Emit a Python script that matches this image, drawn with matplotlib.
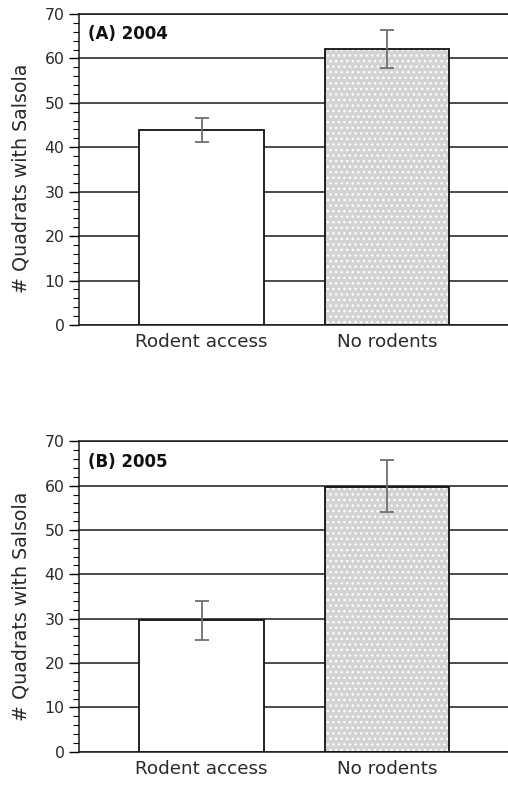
import numpy as np
import matplotlib.pyplot as plt

# values
groups = ['Rodent access', 'No rodents']
mean_2004 = [43.8, 62.2]
lo_2004 = [41.1, 57.9]
hi_2004 = [46.5, 66.5]
mean_2005 = [29.7, 59.7]
lo_2005 = [25.3, 54.0]
hi_2005 = [34.0, 65.7]
panel_titles = ['(A) 2004', '(B) 2005']
yticks = [0, 10, 20, 30, 40, 50, 60, 70]

plt.rcParams['font.family'] = ['DejaVu Sans']

fig = plt.figure(figsize=(5.08, 7.85), dpi=100)
ax_a = fig.add_axes([0.1555, 0.586, 0.8445, 0.3962])
ax_b = fig.add_axes([0.1555, 0.0424, 0.8445, 0.3954])


def draw_panel(ax, means, lo, hi, title):
    x = np.arange(len(groups))
    w = 0.67
    ax.set_axisbelow(True)
    ax.yaxis.grid(True, color='#1a1a1a', linewidth=1.1)
    # plain white bar, then dotted grey bar
    ax.bar(x[0], means[0], width=w, color='white', edgecolor='#111111', linewidth=1.3, zorder=2)
    ax.bar(x[1], means[1], width=w, color='#d3d3d3', edgecolor='white', hatch='...',
           linewidth=0, zorder=2)
    ax.bar(x[1], means[1], width=w, fill=False, edgecolor='#111111', linewidth=1.3, zorder=3)
    err = [np.array(means) - np.array(lo), np.array(hi) - np.array(means)]
    ax.errorbar(x, means, yerr=err, fmt='none', ecolor='#707070', elinewidth=1.3,
                capsize=5, capthick=1.3, zorder=4)
    ax.set_xlim(-0.66, 1.65)
    ax.set_ylim(0, 70)
    ax.set_yticks(yticks)
    ax.set_yticks(np.arange(0, 71, 2), minor=True)
    ax.set_xticks(x)
    ax.set_xticklabels(groups, fontsize=13.2, color='#2a2a2a')
    ax.tick_params(axis='x', length=0, pad=6)
    ax.tick_params(axis='y', which='major', length=7.5, width=1, pad=3, labelsize=11.3,
                   labelcolor='#2a2a2a')
    ax.tick_params(axis='y', which='minor', length=4, width=0.8)
    ax.spines['right'].set_visible(False)
    for s in ['left', 'bottom', 'top']:
        ax.spines[s].set_linewidth(1.1)
        ax.spines[s].set_color('#1a1a1a')
    ax.set_ylabel('# Quadrats with Salsola', fontsize=13.7, color='#2a2a2a')
    ax.yaxis.set_label_coords(-0.113, 0.47)
    ax.text(0.021, 0.935, title, transform=ax.transAxes, fontsize=12,
            fontweight='bold', va='center', ha='left', color='#111111')


draw_panel(ax_a, mean_2004, lo_2004, hi_2004, panel_titles[0])
draw_panel(ax_b, mean_2005, lo_2005, hi_2005, panel_titles[1])

fig.savefig('out.png', dpi=100)
